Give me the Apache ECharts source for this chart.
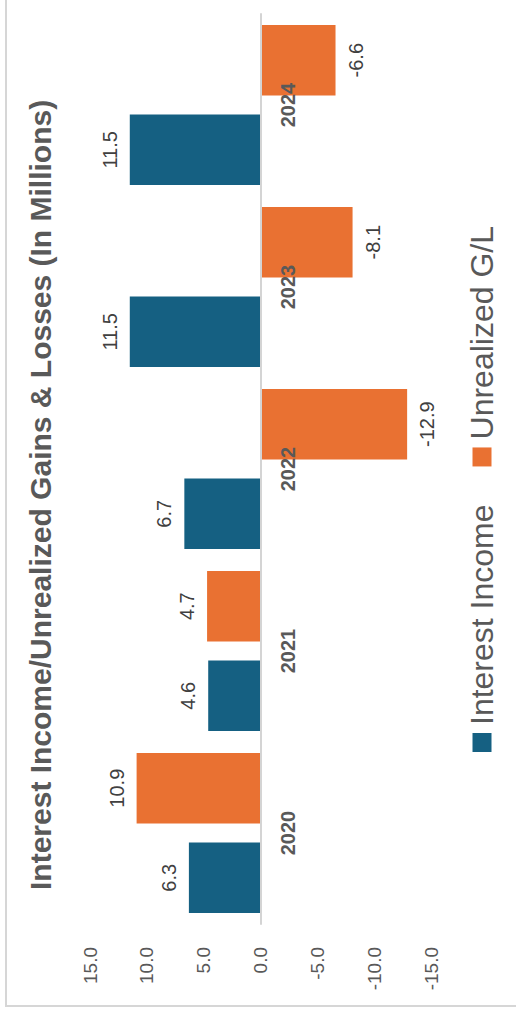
<!DOCTYPE html>
<html>
<head>
<meta charset="utf-8">
<script src="https://cdn.jsdelivr.net/npm/echarts@6/dist/echarts.min.js"></script>
<style>
  html, body { margin: 0; padding: 0; background: #ffffff; }
  body { width: 516px; height: 1017px; position: relative; overflow: hidden; }
  /* The column chart is laid out landscape and turned a quarter turn counter-clockwise */
  #chart {
    position: absolute; left: 0; top: 0;
    width: 1017px; height: 516px;
    transform-origin: 0 0;
    transform: translate(0, 1017px) rotate(-90deg);
  }
</style>
</head>
<body>
<div id="chart"></div>
<script>
// Fiscal years shown on the category axis
const categories = ['2020', '2021', '2022', '2023', '2024'];
// Values in millions of dollars
const interestIncome = [6.3, 4.6, 6.7, 11.5, 11.5];
const unrealizedGL = [10.9, 4.7, -12.9, -8.1, -6.6];
// Value axis range and step
const valueMin = -15;
const valueMax = 15;
const valueStep = 5;

const seriesNames = ['Interest Income', 'Unrealized G/L'];
const seriesColors = ['#156082', '#E97132'];

const FONT = '"Liberation Sans", Arial, sans-serif';

// Plot area box (landscape frame)
const GRID = { left: 93, right: 14, top: 90, bottom: 85 };
const CHART_H = 516;
// Shift the category axis from the plot bottom up to the zero line
const plotH = CHART_H - GRID.top - GRID.bottom;
const zeroShift = -plotH * (0 - valueMin) / (valueMax - valueMin);

// Labels sit beyond the end of each bar: above positive, below negative
function withLabels(values) {
  return values.map(v => ({
    value: v,
    label: { position: v < 0 ? 'bottom' : 'top' }
  }));
}

const chart = echarts.init(document.getElementById('chart'), null, { renderer: 'svg' });

const barLabel = {
  show: true,
  distance: 10,
  fontFamily: FONT,
  fontSize: 20,
  color: '#404040',
  formatter: p => p.value.toFixed(1)
};

chart.setOption({
  animation: false,
  backgroundColor: '#ffffff',
  title: {
    text: 'Interest Income/Unrealized Gains & Losses (In Millions)',
    left: 127,
    top: 25,
    padding: 0,
    textStyle: { fontFamily: FONT, fontSize: 30, fontWeight: 'bold', color: '#595959' }
  },
  legend: {
    data: seriesNames,
    left: 265,
    top: 466,
    padding: 0,
    itemGap: 38,
    itemWidth: 19,
    itemHeight: 19,
    icon: 'rect',
    textStyle: { fontFamily: FONT, fontSize: 32, color: '#595959', padding: [0, 0, 0, 3] }
  },
  grid: Object.assign({ containLabel: false }, GRID),
  xAxis: {
    type: 'category',
    data: categories,
    position: 'bottom',
    offset: zeroShift,
    z: 10,
    axisTick: { show: false },
    axisLine: { show: true, onZero: false, lineStyle: { color: '#d4d4d4', width: 2 } },
    axisLabel: { margin: 17, fontFamily: FONT, fontSize: 20, fontWeight: 'bold', color: '#595959' }
  },
  yAxis: {
    type: 'value',
    min: valueMin,
    max: valueMax,
    interval: valueStep,
    axisLine: { show: false },
    axisTick: { show: false },
    splitLine: { show: false },
    axisLabel: {
      margin: 23,
      fontFamily: FONT,
      fontSize: 19,
      color: '#595959',
      formatter: v => v.toFixed(1)
    }
  },
  graphic: [{
    type: 'rect',
    shape: { x: 11, y: 6, width: 1040, height: 540 },
    style: { fill: 'none', stroke: '#d6d6d6', lineWidth: 2 },
    silent: true,
    z: -1
  }],
  series: [
    {
      name: seriesNames[0],
      type: 'bar',
      data: withLabels(interestIncome),
      itemStyle: { color: seriesColors[0] },
      barGap: '27%',
      barCategoryGap: '12%',
      label: barLabel
    },
    {
      name: seriesNames[1],
      type: 'bar',
      data: withLabels(unrealizedGL),
      itemStyle: { color: seriesColors[1] },
      barGap: '27%',
      barCategoryGap: '12%',
      label: barLabel
    }
  ]
});
</script>
</body>
</html>
